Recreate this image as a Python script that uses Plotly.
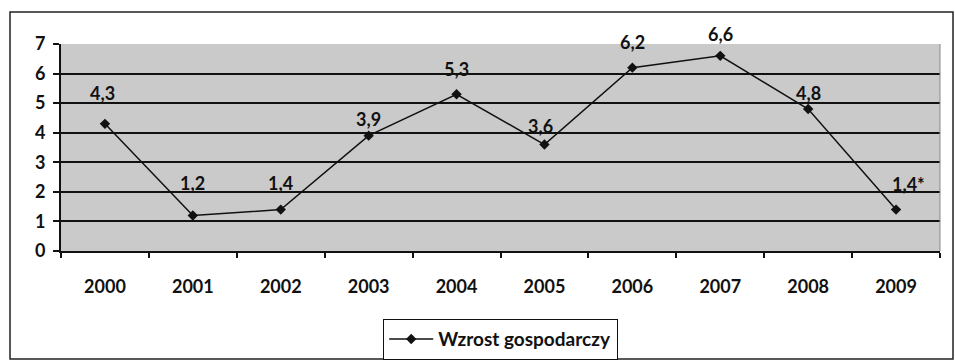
import plotly.graph_objects as go

# Economic growth, % per year
years = ["2000", "2001", "2002", "2003", "2004", "2005", "2006", "2007", "2008", "2009"]
growth = [4.3, 1.2, 1.4, 3.9, 5.3, 3.6, 6.2, 6.6, 4.8, 1.4]
label_suffix = ["", "", "", "", "", "", "", "", "", "*"]
series_name = "Wzrost gospodarczy"
y_ticks = [0, 1, 2, 3, 4, 5, 6, 7]

# label placement above each point (pixels)
label_dy = [31, 33, 27, 17, 25, 19, 26, 22, 16, 26]
label_dx = [-2, 0, 0, 0, 0, -4, 0, 0, 0, 12]

W, H = 955, 361
ML, MR, MT, MB = 61, 15, 44, 110
FONT = "Lato, 'Open Sans', sans-serif"

fig = go.Figure()
fig.add_trace(go.Scatter(
    x=years, y=growth, name=series_name, mode="lines+markers",
    line=dict(color="#111111", width=1.5),
    marker=dict(symbol="diamond", size=8, color="#111111"),
))

# value labels; category axes place annotations by category index
for i, (v, suf, dy, dx) in enumerate(zip(growth, label_suffix, label_dy, label_dx)):
    fig.add_annotation(
        x=i, y=v, xref="x", yref="y",
        text="<b>" + f"{v:.1f}".replace(".", ",") + suf + "</b>",
        showarrow=False, yshift=dy, xshift=dx,
        font=dict(family=FONT, size=18, color="#111111"),
    )

# outer frame of the chart
pw, ph = W - ML - MR, H - MT - MB
fig.add_shape(
    type="rect", xref="paper", yref="paper",
    x0=(10 - ML) / pw, x1=(953 - ML) / pw,
    y0=-(359 - (MT + ph)) / ph, y1=1 + (MT - 12) / ph,
    line=dict(color="#222222", width=1.5), layer="below",
)
# right edge of the plot area
fig.add_shape(
    type="line", xref="paper", yref="paper", x0=1, x1=1, y0=0, y1=1,
    line=dict(color="#888888", width=1),
)

fig.update_layout(
    width=W, height=H,
    margin=dict(l=ML, r=MR, t=MT, b=MB, autoexpand=False),
    paper_bgcolor="white", plot_bgcolor="#cacaca",
    font=dict(family=FONT, size=17, color="#111111"),
    showlegend=True,
    legend=dict(
        orientation="h", x=0.5, xanchor="center", y=-(319 - (MT + ph)) / ph, yanchor="top",
        bordercolor="#111111", borderwidth=1.2, bgcolor="white", itemwidth=44,
        font=dict(family=FONT, size=19, color="#111111", weight="bold"),
    ),
    xaxis=dict(
        type="category", showgrid=False, showline=True, linecolor="#111111", linewidth=2,
        ticks="outside", tickson="boundaries", ticklen=5, tickcolor="#111111", tickwidth=2,
        ticklabelstandoff=18,
        tickfont=dict(family=FONT, size=18, color="#111111", weight="bold"),
        range=[-0.5, 9.5],
    ),
    yaxis=dict(
        range=[0, 7], tickvals=y_ticks, showgrid=True, gridcolor="#111111", gridwidth=1.5,
        showline=True, linecolor="#111111", linewidth=2, zeroline=False,
        ticks="outside", ticklen=6, tickcolor="#111111", tickwidth=2, ticklabelstandoff=4,
        tickfont=dict(family=FONT, size=18, color="#111111", weight="bold"),
    ),
)

fig.write_html("out.html")
